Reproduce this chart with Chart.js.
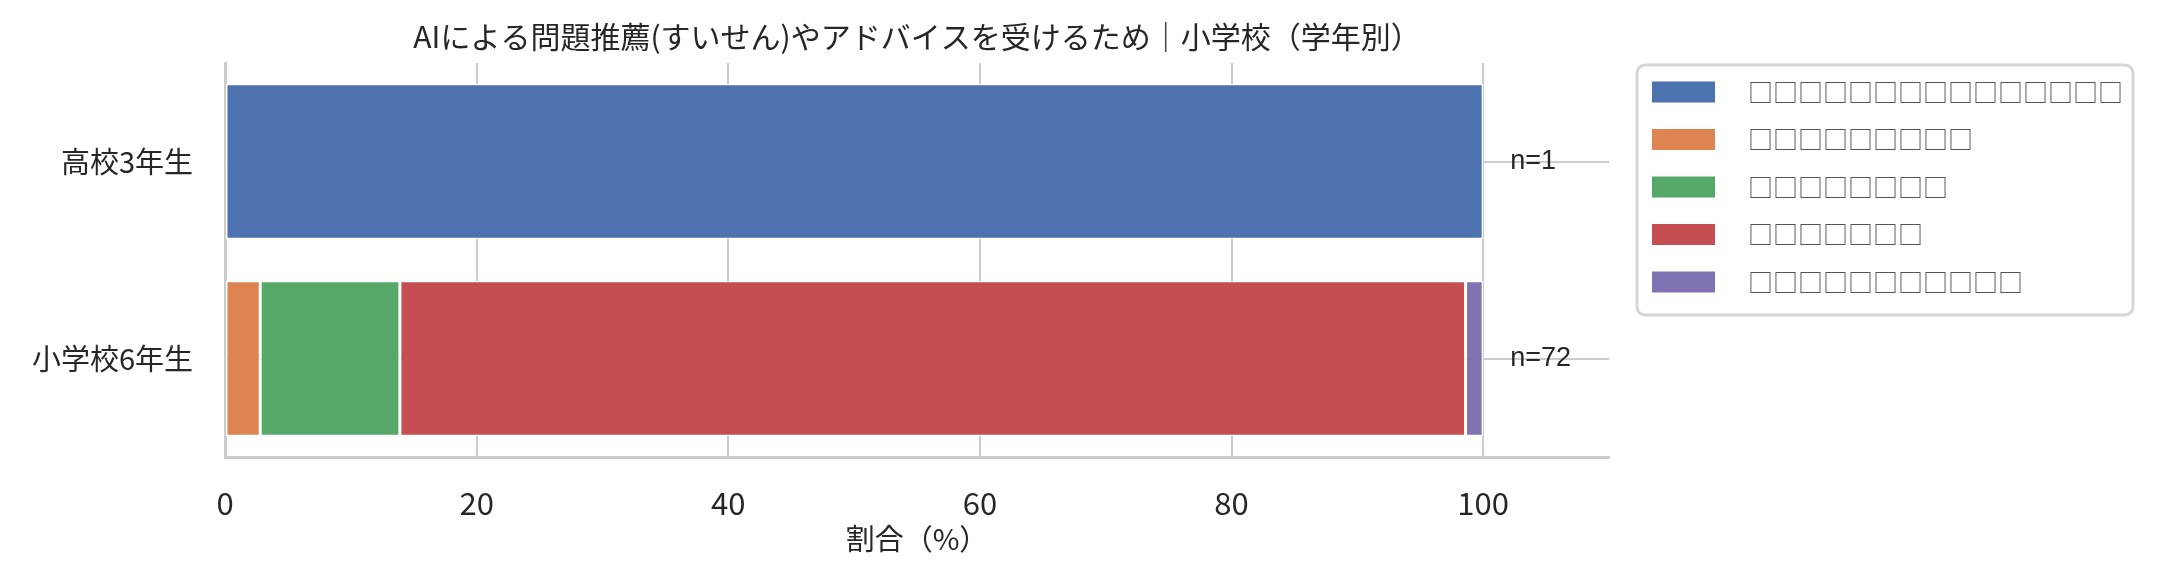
<!DOCTYPE html>
<html>
<head>
<meta charset="utf-8">
<script src="https://cdn.jsdelivr.net/npm/chart.js@4"></script>
<style>
  body { margin: 0; background: #fff; }
</style>
</head>
<body>
<canvas id="barChart" width="2158" height="578"></canvas>
<script>
'use strict';

// データ
var grades = ['高校3年生', '小学校6年生'];
var counts = [1, 72];
var seriesLabels = [
  '□□□□□□□□□□□□□□□',
  '□□□□□□□□□',
  '□□□□□□□□',
  '□□□□□□□',
  '□□□□□□□□□□□'
];
var series1 = [100, 0];
var series2 = [0, 2.8];
var series3 = [0, 11.1];
var series4 = [0, 84.7];
var series5 = [0, 1.4];
var xTicks = [0, 20, 40, 60, 80, 100];

var titleText = 'AIによる問題推薦(すいせん)やアドバイスを受けるため｜小学校（学年別）';
var colors = ['#4C72B0', '#DD8452', '#55A868', '#C44E52', '#8172B3'];
var jpFont = '"Noto Sans CJK JP", "Noto Sans", sans-serif';

var allSeries = [series1, series2, series3, series4, series5];
var datasets = allSeries.map(function (vals, i) {
  return {
    label: seriesLabels[i],
    data: vals,
    backgroundColor: colors[i],
    borderColor: '#ffffff',
    borderWidth: 1.5,
    borderSkipped: false,
    barPercentage: 0.79,
    categoryPercentage: 1.0
  };
});

// タイトル・n表示・凡例を描くプラグイン
var extras = {
  id: 'extras',
  afterDraw: function (chart) {
    var ctx = chart.ctx;
    var xs = chart.scales.x, ys = chart.scales.y;
    ctx.save();
    // タイトル
    ctx.fillStyle = '#262626';
    ctx.font = '30px ' + jpFont;
    ctx.textAlign = 'center';
    ctx.textBaseline = 'middle';
    ctx.fillText(titleText, (chart.chartArea.left + chart.chartArea.right) / 2, 37);

    // n=
    ctx.font = '27px "Liberation Sans", Arial, sans-serif';
    ctx.textAlign = 'left';
    grades.forEach(function (g, i) {
      ctx.fillText('n=' + counts[i], xs.getPixelForValue(100) + 27, ys.getPixelForValue(i));
    });

    // 凡例
    var lx = 1637, ly = 65, lw = 496, lh = 250, r = 8;
    ctx.beginPath();
    ctx.moveTo(lx + r, ly);
    ctx.arcTo(lx + lw, ly, lx + lw, ly + lh, r);
    ctx.arcTo(lx + lw, ly + lh, lx, ly + lh, r);
    ctx.arcTo(lx, ly + lh, lx, ly, r);
    ctx.arcTo(lx, ly, lx + lw, ly, r);
    ctx.closePath();
    ctx.fillStyle = '#ffffff';
    ctx.fill();
    ctx.strokeStyle = '#d6d6d6';
    ctx.lineWidth = 3;
    ctx.stroke();

    ctx.font = '25px ' + jpFont;
    ctx.textBaseline = 'middle';
    chart.data.datasets.forEach(function (ds, i) {
      var cy = 92 + i * 47.5;
      ctx.fillStyle = ds.backgroundColor;
      ctx.fillRect(1652, cy - 10.5, 63, 21);
      ctx.fillStyle = '#555555';
      ctx.fillText(ds.label, 1748, cy);
    });
    ctx.restore();
  }
};

var barChartCanvas = document.getElementById('barChart').getContext('2d');
var barChart = new Chart(barChartCanvas, {
  type: 'bar',
  data: { labels: grades, datasets: datasets },
  options: {
    indexAxis: 'y',
    responsive: false,
    animation: false,
    devicePixelRatio: 1,
    layout: { padding: { left: 0, right: 549, top: 63, bottom: 0 } },
    plugins: {
      legend: { display: false },
      title: { display: false },
      tooltip: { enabled: false }
    },
    scales: {
      x: {
        stacked: true,
        min: 0,
        max: 110,
        afterBuildTicks: function (scale) {
          scale.ticks = xTicks.map(function (v) { return { value: v }; });
        },
        afterFit: function (scale) { scale.height = 121; },
        grid: { color: '#cccccc', lineWidth: 2, drawTicks: false },
        border: { color: '#cccccc', width: 3 },
        ticks: {
          color: '#262626',
          font: { family: jpFont, size: 31 },
          padding: 28
        },
        title: {
          display: true,
          text: '割合（%）',
          color: '#262626',
          font: { family: jpFont, size: 29 },
          padding: { top: 0, bottom: 22 }
        }
      },
      y: {
        stacked: true,
        afterFit: function (scale) { scale.width = 225; },
        grid: { color: '#cccccc', lineWidth: 2, drawTicks: false, offset: false },
        border: { color: '#cccccc', width: 3 },
        ticks: {
          color: '#262626',
          font: { family: jpFont, size: 29 },
          padding: 32
        }
      }
    }
  },
  plugins: [extras]
});
</script>
</body>
</html>
